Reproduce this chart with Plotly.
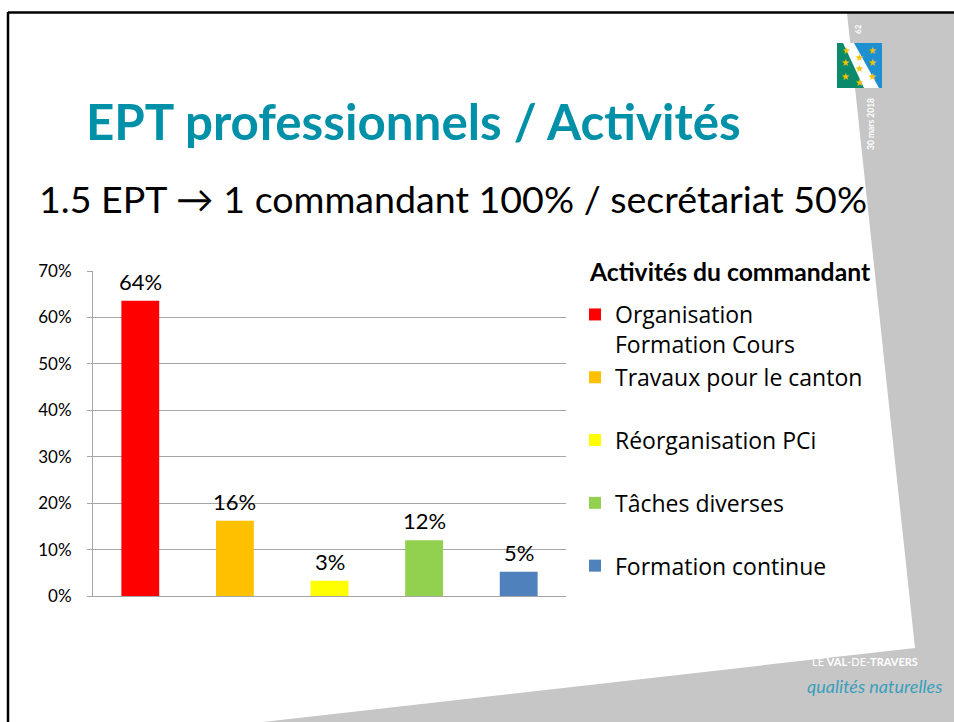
import plotly.graph_objects as go

# ---------------- data ----------------
categories = ["Organisation Formation Cours", "Travaux pour le canton",
              "Réorganisation PCi", "Tâches diverses", "Formation continue"]
legend_labels = ["Organisation<br>Formation Cours", "Travaux pour le canton<br>\u00a0",
                 "Réorganisation PCi<br>\u00a0", "Tâches diverses<br>\u00a0",
                 "Formation continue<br>\u00a0"]
shares = [0.636, 0.162, 0.033, 0.120, 0.052]
bar_colors = ["#FF0000", "#FFC000", "#FFFF00", "#92D050", "#4F81BD"]
y_tick_values = [0, 0.1, 0.2, 0.3, 0.4, 0.5, 0.6, 0.7]

title_text = "EPT professionnels / Activités"
subtitle_text = "1.5 EPT \u2192 1 commandant 100% / secrétariat 50%"
legend_title = "Activités du commandant"

W, H = 954, 722
FONT = "Lato, 'Open Sans', sans-serif"
LEG_FONT = "'Open Sans', Lato, sans-serif"


def px(x):
    return x / W


def py(y):
    return 1 - y / H


def path(points):
    return "M " + " L ".join(f"{px(x):.5f},{py(y):.5f}" for x, y in points) + " Z"


def note(x, y, text, size, color, family=FONT, angle=0, xanchor="center"):
    return dict(x=px(x), y=py(y), xref="paper", yref="paper", xanchor=xanchor,
                yanchor="middle", showarrow=False, text=text, textangle=angle,
                font=dict(family=family, size=size, color=color))


fig = go.Figure()
for i, (cat, lab, val, col) in enumerate(zip(categories, legend_labels, shares, bar_colors)):
    fig.add_trace(go.Bar(x=[cat], y=[val], name=lab, marker=dict(color=col, line=dict(width=0)),
                         width=0.4, legendgroup=f"g{i}", cliponaxis=False, hoverinfo="x+y"))

annotations = []
for cat, val in zip(categories, shares):
    annotations.append(dict(x=cat, y=val, xref="x", yref="y", text=f"{round(val * 100)}%",
                            showarrow=False, xanchor="center", yanchor="bottom", yshift=4,
                            font=dict(family=FONT, size=22, color="#000000")))

annotations.append(note(84, 121, f"<b>{title_text}</b>", 49.3, "#0090A8", xanchor="left"))
annotations.append(note(37, 198, subtitle_text, 37.6, "#000000", xanchor="left"))
annotations.append(note(587, 271, f"<b>{legend_title}</b>", 24.7, "#000000", xanchor="left"))

annotations.append(note(858, 29, "<b>62</b>", 8, "#ffffff", angle=-90))
annotations.append(note(871, 124, "<b>30 mars 2018</b>", 8.5, "#ffffff", angle=-90))
annotations.append(note(865, 661, "LE <b>VAL</b>-DE-<b>TRAVERS</b>", 11, "#ffffff"))
annotations.append(note(874, 686, "<i>qualités naturelles</i>", 18, "#3A9FBC"))

for sx, sy in [(846, 51), (859, 57), (872, 51), (845, 63), (859, 69), (872, 63),
               (845, 76), (859, 82), (872, 76)]:
    annotations.append(note(sx, sy, "\u2605", 10, "#F2C200", family="DejaVu Sans"))

shapes = [
    dict(type="path", xref="paper", yref="paper", layer="below",
         path=path([(847, 13), (954, 13), (954, 722), (263, 722), (915, 648)]),
         fillcolor="#C6C6C6", line=dict(width=0)),
    dict(type="path", xref="paper", yref="paper", layer="above",
         path=path([(837, 43), (882, 43), (882, 88), (837, 88)]),
         fillcolor="#ffffff", line=dict(width=0)),
    dict(type="path", xref="paper", yref="paper", layer="above",
         path=path([(837, 43), (843, 43), (864, 88), (837, 88)]),
         fillcolor="#0A8A6A", line=dict(width=0)),
    dict(type="path", xref="paper", yref="paper", layer="above",
         path=path([(854, 43), (882, 43), (882, 88), (879, 88)]),
         fillcolor="#1E8FD0", line=dict(width=0)),
    dict(type="line", xref="paper", yref="paper", x0=px(8), x1=1, y0=py(12.5), y1=py(12.5),
         line=dict(color="#000000", width=2.5), layer="above"),
    dict(type="line", xref="paper", yref="paper", x0=px(8), x1=px(8), y0=py(12), y1=0,
         line=dict(color="#000000", width=2.5), layer="above"),
]

fig.update_layout(
    width=W, height=H,
    margin=dict(l=0, r=0, t=0, b=0, autoexpand=False),
    paper_bgcolor="#ffffff", plot_bgcolor="rgba(0,0,0,0)",
    barmode="overlay",
    font=dict(family=FONT, color="#000000"),
    xaxis=dict(domain=[px(93), px(566)], type="category", range=[-0.5, 4.5],
               showticklabels=False, showgrid=False, showline=True, linecolor="#A6A6A6",
               linewidth=1, ticks="", zeroline=False, fixedrange=True, automargin=False),
    yaxis=dict(domain=[py(596), py(271)], range=[0, 0.7], tickvals=y_tick_values,
               tickformat=".0%", showline=True, linecolor="#A6A6A6", linewidth=1,
               ticks="outside", ticklen=5, tickcolor="#A6A6A6", showgrid=True,
               gridcolor="#A6A6A6", gridwidth=1, zeroline=False, ticklabelstandoff=12,
               tickfont=dict(family=FONT, size=17, color="#000000"), fixedrange=True,
               automargin=False),
    legend=dict(x=px(575), y=py(293), xanchor="left", yanchor="top",
                bgcolor="rgba(0,0,0,0)", borderwidth=0, valign="top",
                tracegroupgap=0, traceorder="normal",
                font=dict(family=LEG_FONT, size=23, color="#000000")),
    showlegend=True,
    annotations=annotations,
    shapes=shapes,
)

fig.write_html("out.html", config={"displayModeBar": False},
               post_script="document.body.style.margin='0';")
